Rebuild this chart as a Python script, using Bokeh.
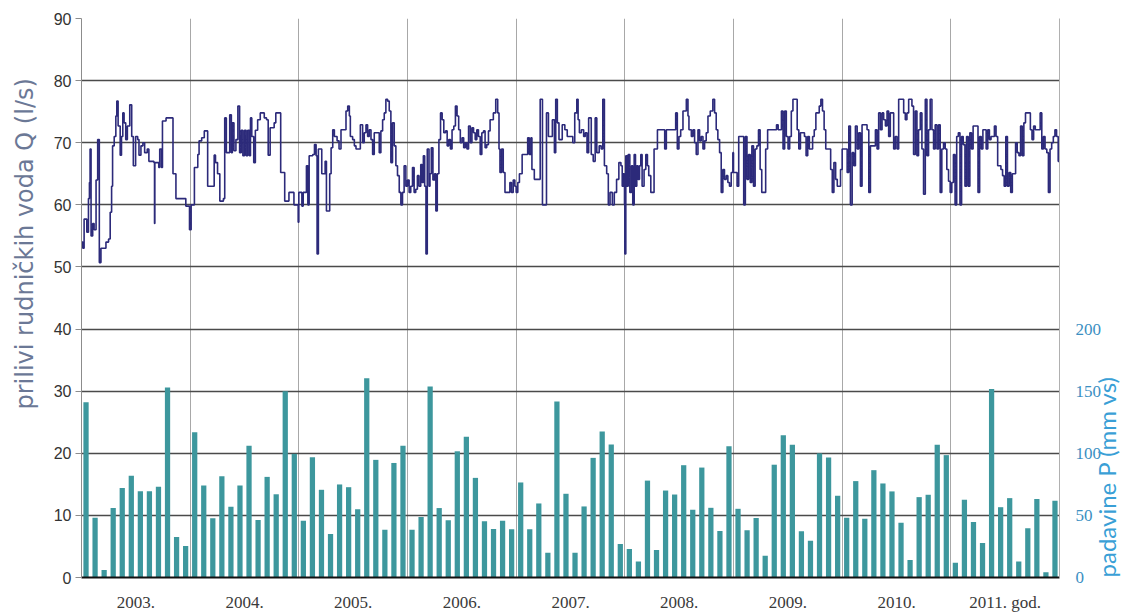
from bokeh.plotting import figure
from bokeh.models import Range1d, LinearAxis, FixedTicker, Title
from bokeh.embed import file_html
from bokeh.resources import INLINE

# ---------------- data ----------------
years = [2003, 2004, 2005, 2006, 2007, 2008, 2009, 2010, 2011]
year_labels = ["2003.", "2004.", "2005.", "2006.", "2007.", "2008.", "2009.", "2010.", "2011. god."]

# monthly precipitation P (mm vs), Jan..Dec per year
rain_2003 = [141, 48, 6, 56, 72, 82, 69.5, 69.5, 73, 153, 32.6, 25.4]
rain_2004 = [117, 74, 47.6, 81.6, 57, 74, 106, 46.3, 81, 67, 150, 99.5]
rain_2005 = [45.7, 96.8, 70.6, 35, 74.9, 72.7, 55, 160.4, 94.7, 38.5, 92.2, 106]
rain_2006 = [38.5, 48.7, 153.7, 55.9, 46, 101.6, 113.4, 80.2, 45.2, 39, 45.7, 38.8]
rain_2007 = [76.5, 38.8, 59.6, 20, 141.7, 67.4, 20, 57.2, 96.3, 117.6, 107, 27]
rain_2008 = [23, 12.8, 78, 22.2, 70, 66.8, 90.4, 54.5, 88.5, 56.1, 37.4, 105.6]
rain_2009 = [55.3, 38, 47.9, 17.5, 90.8, 114.6, 106.8, 37.3, 29.5, 99.9, 96.6, 65.8]
rain_2010 = [48, 77.6, 47.2, 86.4, 75.7, 69.3, 44, 14, 64.7, 66.6, 106.8, 98.5]
rain_2011 = [11.8, 62.6, 44.6, 27.7, 151.7, 56.6, 63.9, 12.9, 39.7, 63.1, 4.3, 61.7]

# mine water inflow Q (l/s): change points (fraction of year) and values
q2003_f = [0.000, 0.012, 0.024, 0.049, 0.064, 0.073, 0.079, 0.088, 0.103, 0.116,
           0.134, 0.149, 0.164, 0.179, 0.225, 0.249, 0.264, 0.277, 0.286, 0.301,
           0.316, 0.325, 0.337, 0.356, 0.368, 0.380, 0.392, 0.407, 0.422, 0.444,
           0.462, 0.477, 0.498, 0.517, 0.529, 0.547, 0.565, 0.581, 0.605, 0.620,
           0.666, 0.672, 0.675, 0.711, 0.720, 0.736, 0.745, 0.778, 0.842, 0.869,
           0.960, 0.994]
q2003_v = [54, 53, 57.7, 55.6, 61, 63.6, 69, 55, 57, 56,
           64, 70.5, 50.7, 53, 54, 54.5, 58.8, 63, 69.5, 71,
           74.3, 76.7, 72.7, 68, 71, 74.8, 73.2, 70.5, 72.7, 76.1,
           71, 66.3, 71, 70.5, 68, 69.5, 70, 68.4, 69, 67,
           66.8, 57, 66.8, 66, 69, 66, 73.5, 74, 65, 61,
           59.8, 56]

q2004_f = [0.009, 0.039, 0.070, 0.082, 0.106, 0.130, 0.161, 0.221, 0.233, 0.252,
           0.273, 0.306, 0.318, 0.333, 0.364, 0.379, 0.388, 0.403, 0.421, 0.439,
           0.455, 0.470, 0.485, 0.500, 0.515, 0.530, 0.545, 0.555, 0.567, 0.585,
           0.600, 0.621, 0.645, 0.682, 0.703, 0.718, 0.736, 0.773, 0.788, 0.833,
           0.870, 0.909, 0.955, 0.994]
q2004_v = [60, 66, 68.1, 70.3, 70.8, 71.9, 63, 68, 66.8, 65,
           60.6, 61, 74, 68.4, 74.5, 68.4, 73.2, 68.7, 70.5, 75.9,
           68.4, 72, 67.9, 72, 67.9, 72, 67.9, 74, 71, 66.8,
           72, 73.7, 74.8, 74, 73.7, 68, 72.4, 73.2, 74.8, 65.2,
           60.6, 62, 60, 57.2]

q2005_f = [0.000, 0.028, 0.040, 0.070, 0.083, 0.095, 0.128, 0.144, 0.159, 0.168,
           0.180, 0.211, 0.242, 0.254, 0.284, 0.297, 0.312, 0.327, 0.352, 0.370,
           0.388, 0.434, 0.450, 0.465, 0.474, 0.495, 0.511, 0.526, 0.566, 0.587,
           0.602, 0.618, 0.633, 0.648, 0.664, 0.679, 0.694, 0.740, 0.755, 0.771,
           0.786, 0.801, 0.817, 0.832, 0.847, 0.862, 0.878, 0.893, 0.908, 0.924,
           0.939, 0.954, 0.969, 0.985]
q2005_v = [62, 59.8, 62, 66.3, 60, 67.9, 68.1, 69.7, 67.9, 52.1,
           69, 65, 67, 59, 65, 69.2, 72.1, 71, 70.3, 69,
           72.1, 75.1, 75.9, 74.3, 71, 70.5, 69.5, 69, 72.9, 70,
           71.6, 72.9, 71, 72.1, 70.5, 68.1, 71.6, 68.4, 71.9, 73.7,
           74.8, 77, 76.7, 75.1, 66.8, 73.2, 69.5, 66.3, 64.7, 62,
           60, 62, 66.3, 63]

q2006_f = [0.000, 0.015, 0.030, 0.046, 0.061, 0.076, 0.091, 0.106, 0.122, 0.134,
           0.146, 0.158, 0.170, 0.182, 0.198, 0.207, 0.219, 0.234, 0.249, 0.261,
           0.274, 0.289, 0.304, 0.319, 0.334, 0.350, 0.365, 0.380, 0.395, 0.410,
           0.426, 0.441, 0.456, 0.471, 0.486, 0.502, 0.517, 0.532, 0.547, 0.562,
           0.578, 0.593, 0.608, 0.623, 0.638, 0.653, 0.669, 0.684, 0.699, 0.714,
           0.729, 0.745, 0.760, 0.790, 0.812, 0.830, 0.842, 0.851, 0.866, 0.881,
           0.897, 0.942, 0.957, 0.973, 0.988]
q2006_v = [64, 62, 63, 66, 62, 62.5, 64.7, 63, 66.5, 63.6,
           67.9, 63, 52.1, 69, 63, 65, 69.2, 64, 65, 59,
           65, 70.5, 74.8, 73.7, 71.6, 71.9, 69.5, 70.5, 69, 72.1,
           72.7, 75.9, 74.3, 72.1, 70, 70.8, 69.2, 70, 69, 72.7,
           70, 72.4, 71.6, 70.5, 72.1, 71, 68.1, 71.6, 71.9, 69.2,
           69.7, 71.9, 73.7, 74.8, 77, 74.8, 69, 65.2, 69, 65.2,
           62, 63.6, 62, 64, 63]

q2007_f = [0.000, 0.015, 0.030, 0.055, 0.106, 0.121, 0.136, 0.145, 0.167, 0.221,
           0.242, 0.279, 0.297, 0.333, 0.352, 0.364, 0.379, 0.394, 0.424, 0.448,
           0.470, 0.521, 0.539, 0.558, 0.570, 0.582, 0.600, 0.621, 0.636, 0.652,
           0.667, 0.691, 0.709, 0.727, 0.742, 0.764, 0.782, 0.797, 0.812, 0.833,
           0.848, 0.864, 0.885, 0.903, 0.924, 0.945, 0.964, 0.976, 0.985, 0.997]
q2007_v = [62, 63.6, 65, 68.1, 70.8, 68.1, 70.8, 65.7, 64.1, 77,
           60, 74.8, 71, 73.7, 68.4, 77, 73.2, 70.5, 72.9, 72.1,
           71, 70, 74.8, 77, 73.7, 71.6, 72.1, 71, 71.6, 68.4,
           74, 68.1, 67, 74, 68.4, 69.5, 69, 77, 66.3, 65,
           60, 62, 60, 62, 64.1, 66.8, 66.3, 63, 65, 60]

q2008_f = [0.000, 0.009, 0.021, 0.031, 0.046, 0.061, 0.073, 0.086, 0.098, 0.110,
           0.122, 0.135, 0.147, 0.159, 0.177, 0.193, 0.208, 0.220, 0.239, 0.269,
           0.300, 0.367, 0.382, 0.468, 0.483, 0.498, 0.514, 0.535, 0.566, 0.581,
           0.590, 0.612, 0.627, 0.642, 0.657, 0.673, 0.688, 0.703, 0.719, 0.734,
           0.749, 0.765, 0.786, 0.810, 0.826, 0.841, 0.856, 0.872, 0.887, 0.902,
           0.917, 0.933, 0.948, 0.963, 0.979, 0.994]
q2008_v = [52.1, 67.9, 63, 68.1, 62, 66.3, 60, 68.1, 63, 66.3,
           64.1, 66.3, 68.1, 63, 65.7, 68.1, 66.3, 64.7, 62, 69,
           72.1, 69, 72.1, 74.8, 69, 71, 72.1, 75.1, 77, 74.3,
           72.1, 71, 72.1, 70, 68.1, 72.1, 70.3, 71, 69, 70.3,
           71.6, 74.3, 75.1, 77, 74.8, 72.1, 70.5, 68.4, 62, 65.7,
           64.1, 64.7, 63.6, 63, 65.2, 68.4]

q2009_f = [0.000, 0.033, 0.048, 0.094, 0.109, 0.124, 0.139, 0.154, 0.169, 0.184,
           0.199, 0.215, 0.230, 0.245, 0.260, 0.296, 0.314, 0.396, 0.411, 0.441,
           0.456, 0.471, 0.486, 0.502, 0.517, 0.532, 0.547, 0.586, 0.601, 0.616,
           0.653, 0.668, 0.683, 0.698, 0.728, 0.743, 0.758, 0.789, 0.804, 0.819,
           0.834, 0.849, 0.894, 0.909, 0.924, 0.940, 0.955, 0.985]
q2009_v = [65.2, 63, 71, 60, 71, 64.1, 68.1, 63.6, 69.5, 63,
           69, 69.5, 72.1, 65.7, 62, 69, 72.1, 72.9, 72.1, 75.1,
           69, 75.1, 71, 69, 71, 75.1, 77, 72.1, 69, 71.6,
           71, 67.9, 71, 69, 71, 72.1, 74.8, 75.9, 77, 75.1,
           72.1, 69, 65.7, 62, 66.8, 64.1, 63, 65.7]

q2010_f = [0.000, 0.046, 0.061, 0.076, 0.092, 0.107, 0.122, 0.138, 0.153, 0.168,
           0.183, 0.229, 0.245, 0.260, 0.306, 0.321, 0.336, 0.352, 0.367, 0.382,
           0.398, 0.413, 0.428, 0.443, 0.474, 0.489, 0.505, 0.520, 0.566, 0.581,
           0.596, 0.612, 0.642, 0.657, 0.673, 0.688, 0.703, 0.719, 0.734, 0.749,
           0.765, 0.780, 0.795, 0.810, 0.826, 0.841, 0.856, 0.872, 0.887, 0.902,
           0.917, 0.933, 0.948, 0.963, 0.979, 0.994]
q2010_v = [69, 65.2, 72.7, 60, 68.4, 66.3, 72.7, 69, 71.6, 63,
           72.9, 72.1, 62, 69.5, 72.1, 69, 74.8, 72.1, 74.8, 73.7,
           72.7, 75.1, 71, 74.8, 69, 71, 69, 77, 74.8, 73.7,
           74.8, 77, 75.9, 68.1, 75.1, 67.9, 72.1, 74.8, 69, 61.7,
           77, 67.9, 72.1, 77, 72.1, 69, 72.9, 69, 72.9, 62,
           69, 70, 69, 65.7, 63.8, 62]

q2011_f = [0.000, 0.009, 0.024, 0.039, 0.054, 0.069, 0.084, 0.099, 0.114, 0.130,
           0.145, 0.160, 0.175, 0.190, 0.205, 0.250, 0.265, 0.280, 0.295, 0.325,
           0.340, 0.355, 0.370, 0.401, 0.416, 0.431, 0.461, 0.476, 0.491, 0.506,
           0.521, 0.536, 0.551, 0.566, 0.596, 0.611, 0.627, 0.642, 0.657, 0.672,
           0.687, 0.732, 0.747, 0.762, 0.777, 0.822, 0.837, 0.852, 0.867, 0.883,
           0.898, 0.913, 0.928, 0.943, 0.958, 0.973, 0.988, 1.000]
q2011_v = [62, 63.6, 68.1, 60, 71, 71.6, 60, 71, 69.7, 63,
           71, 63, 71.6, 69, 72.7, 62, 71, 69, 72.1, 69,
           72.1, 70.5, 71, 72.7, 71, 66.3, 65.7, 64.7, 63, 71,
           63, 65.2, 62, 65, 70, 68.4, 67.9, 72.7, 67.9, 73.2,
           74.8, 72.1, 70.5, 72.7, 72.1, 74.8, 69, 71, 69, 68.4,
           62, 69, 70, 71, 72.1, 71, 67, 67]

# ---------------- assemble (x in months since Jan 2003) ----------------
rain_all = [rain_2003, rain_2004, rain_2005, rain_2006, rain_2007,
            rain_2008, rain_2009, rain_2010, rain_2011]
q_f_all = [q2003_f, q2004_f, q2005_f, q2006_f, q2007_f, q2008_f, q2009_f, q2010_f, q2011_f]
q_v_all = [q2003_v, q2004_v, q2005_v, q2006_v, q2007_v, q2008_v, q2009_v, q2010_v, q2011_v]

bar_x, bar_top = [], []
for i, r in enumerate(rain_all):
    for m, v in enumerate(r):
        bar_x.append(i * 12 + m + 0.5)
        bar_top.append(v)

line_x, line_y = [], []
for i, (fs, vs) in enumerate(zip(q_f_all, q_v_all)):
    for f, v in zip(fs, vs):
        line_x.append((i + f) * 12)
        line_y.append(v)

# ---------------- figure ----------------
W, H = 1138, 614
p = figure(width=W, height=H, output_backend="svg", toolbar_location=None,
           x_range=Range1d(0, 108), y_range=Range1d(0, 90),
           min_border_left=77, min_border_right=75, min_border_top=18, min_border_bottom=37)
p.outline_line_color = None
p.background_fill_color = "white"
p.border_fill_color = "white"
p.extra_y_ranges = {"rain": Range1d(0, 450)}

# grids
p.ygrid.ticker = FixedTicker(ticks=list(range(0, 91, 10)))
p.ygrid.grid_line_color = "#4a4a4a"
p.ygrid.grid_line_width = 1.3
p.xgrid.ticker = FixedTicker(ticks=[12 * k for k in range(1, 9)])
p.xgrid.grid_line_color = "#a8a8a8"
p.xgrid.grid_line_width = 1

# left axis
yl = p.yaxis[0]
yl.ticker = FixedTicker(ticks=list(range(0, 91, 10)))
yl.axis_line_color = "#8c8c8c"
yl.major_tick_line_color = "#8c8c8c"
yl.major_tick_out = 6
yl.major_tick_in = 0
yl.minor_tick_line_color = None
yl.major_label_standoff = 4
yl.major_label_text_font = "Liberation Sans"
yl.major_label_text_font_size = "16px"
yl.major_label_text_color = "#333333"

# bottom axis
xa = p.xaxis[0]
xa.ticker = FixedTicker(ticks=[12 * k + 6 for k in range(9)])
xa.major_label_overrides = {12 * k + 6: year_labels[k] for k in range(9)}
xa.axis_line_color = "#111111"
xa.axis_line_width = 2
xa.major_tick_line_color = None
xa.minor_tick_line_color = None
xa.major_label_standoff = 9
xa.major_label_text_font = "Liberation Serif"
xa.major_label_text_font_size = "17px"
xa.major_label_text_color = "#3a3a3a"

# right axis
yr = LinearAxis(y_range_name="rain", ticker=FixedTicker(ticks=[0, 50, 100, 150, 200]))
yr.axis_line_color = "#b0b0b0"
yr.major_tick_line_color = None
yr.minor_tick_line_color = None
yr.major_label_standoff = 10
yr.major_label_text_font = "Liberation Serif"
yr.major_label_text_font_size = "17px"
yr.major_label_text_color = "#3b8fc2"
yr.axis_label = "padavine P (mm vs)"
yr.axis_label_text_font = "Lato"
yr.axis_label_text_font_size = "24px"
yr.axis_label_text_font_style = "normal"
yr.axis_label_text_color = "#3a9fd6"
yr.axis_label_standoff = 2
try:
    yr.axis_label_orientation = 1.5707963
except Exception:
    pass
try:
    yr.axis_label_align = "start"
except Exception:
    pass
p.add_layout(yr, "right")

# left title (rotated, reads bottom-to-top)
p.add_layout(Title(text="prilivi rudničkih voda Q (l/s)", align="left", offset=168,
                   vertical_align="top", standoff=20, text_font="DejaVu Sans",
                   text_font_size="24px", text_font_style="normal",
                   text_color="#6b7896"), "left")

# bars and line
p.vbar(x=bar_x, top=bar_top, width=0.58, y_range_name="rain",
       fill_color="#3d979d", line_color=None)
p.step(x=line_x, y=line_y, mode="after", line_color="#2c2a7a", line_width=1.6)

open("out.html", "w").write(file_html(p, INLINE))
